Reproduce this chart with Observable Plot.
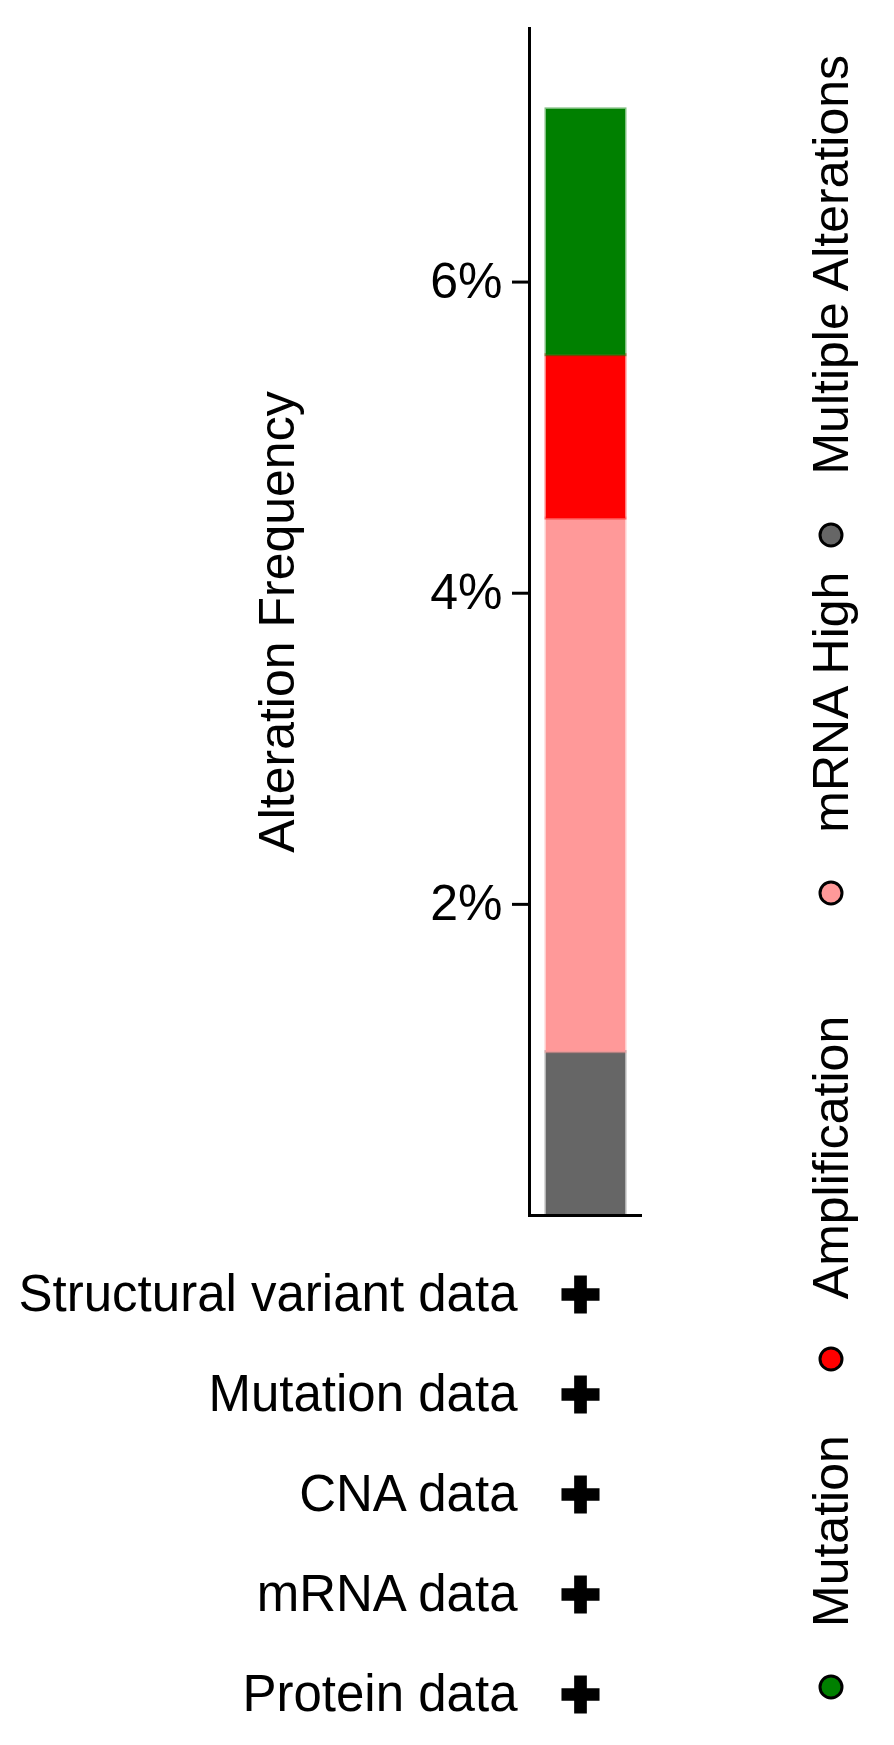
<!DOCTYPE html>
<html>
<head>
<meta charset="utf-8">
<script src="https://cdn.jsdelivr.net/npm/d3@7"></script>
<script src="https://cdn.jsdelivr.net/npm/@observablehq/plot@0.6"></script>
<style>
  html, body { margin: 0; padding: 0; background: #fff; }
  #root { position: relative; width: 894px; height: 1745px; overflow: hidden; font-family: "Liberation Sans", Arial, sans-serif; color: #000; }
  #chart { position: absolute; left: 0; top: 0; }
  #types { position: absolute; left: 0; top: 1240px; }
  #legend { position: absolute; left: 806px; top: 1698px; width: 1800px; transform: rotate(-90deg); transform-origin: 0 0; color: #000; }
  #legend .lg-swatches { font-family: "Liberation Sans", Arial, sans-serif; font-size: 50px; line-height: 50px; display: flex; flex-wrap: nowrap; align-items: center; margin: 0; min-height: 0; white-space: nowrap; }
  #legend .lg-swatch { display: inline-flex; align-items: center; flex-shrink: 0; height: 50px; margin: 0 64px 0 0; }
  #legend .lg-swatch:nth-of-type(1) { margin-right: 65px; }
  #legend .lg-swatch:nth-of-type(2) { margin-right: 112px; }
  #legend .lg-swatch:nth-of-type(3) { margin-right: 26px; }
  #legend .lg-swatch > svg { margin-right: 49px; overflow: visible; flex-shrink: 0; }
  #legend .lg-swatch rect { rx: 11px; ry: 11px; stroke: #000; stroke-width: 3px; }
</style>
</head>
<body>
<div id="root">
  <div id="chart"></div>
  <div id="types"></div>
  <div id="legend"></div>
</div>
<script>
// ---- data ----
const group = "Query";
// stacked from bottom to top
const categories = ["Multiple Alterations", "mRNA High", "Amplification", "Mutation"];
const frequencies = [1.05, 3.43, 1.05, 1.58]; // percent
const colors = ["#666666", "#ff9999", "#ff0000", "#008000"];
const legendOrder = ["Mutation", "Amplification", "mRNA High", "Multiple Alterations"];
const yTicks = [2, 4, 6];
const yTickLabels = ["2%", "4%", "6%"];
const yTitle = "Alteration Frequency";
const dataTypes = ["Structural variant data", "Mutation data", "CNA data", "mRNA data", "Protein data"];
const profiled = [true, true, true, true, true];

const FONT = "'Liberation Sans', Arial, sans-serif";

const rows = categories.map((c, i) => ({group, category: c, value: frequencies[i]}));

const chart = Plot.plot({
  width: 894,
  height: 1240,
  marginTop: 28,
  marginBottom: 25,
  marginLeft: 529,
  marginRight: 252,
  style: {fontFamily: FONT, fontSize: "50px", color: "#000", background: "transparent", overflow: "visible"},
  x: {type: "band", domain: [group], padding: 0.174, axis: null},
  y: {domain: [0, 7.63], axis: null},
  color: {domain: categories, range: colors},
  marks: [
    Plot.barY(rows, {x: "group", y: "value", fill: "category", stroke: "category", strokeOpacity: 0.5, strokeWidth: 3}),
    Plot.axisY({
      ticks: yTicks,
      tickFormat: d => yTickLabels[yTicks.indexOf(d)],
      tickSize: 17,
      tickPadding: 10,
      strokeWidth: 3,
      fontSize: 50,
      fill: "#000",
      label: yTitle,
      labelAnchor: "center",
      labelOffset: 271,
      labelArrow: "none"
    }),
    Plot.frame({anchor: "left", strokeWidth: 3, stroke: "#000"}),
    Plot.ruleY([0], {strokeWidth: 3, stroke: "#000"})
  ]
});
document.getElementById("chart").append(chart);

const typeRows = dataTypes.map((d, i) => ({type: d, profiled: profiled[i]}));
const types = Plot.plot({
  width: 894,
  height: 505,
  marginTop: 3,
  marginBottom: 0,
  marginLeft: 0,
  marginRight: 314,
  style: {fontFamily: FONT, fontSize: "50px", color: "#000", background: "transparent", overflow: "visible"},
  y: {type: "band", domain: dataTypes, padding: 0, axis: null},
  marks: [
    Plot.text(typeRows, {y: "type", text: "type", frameAnchor: "right", textAnchor: "end", dx: -63, fontSize: 51, fill: "#000"}),
    Plot.dot(typeRows.filter(d => d.profiled), {y: "type", frameAnchor: "right", symbol: "cross", r: 16, fill: "#000", stroke: "none"})
  ]
});
document.getElementById("types").append(types);

const legend = Plot.legend({
  color: {type: "ordinal", domain: legendOrder, range: legendOrder.map(c => colors[categories.indexOf(c)])},
  legend: "swatches",
  swatchSize: 22,
  className: "lg"
});
document.getElementById("legend").append(legend);
</script>
</body>
</html>
